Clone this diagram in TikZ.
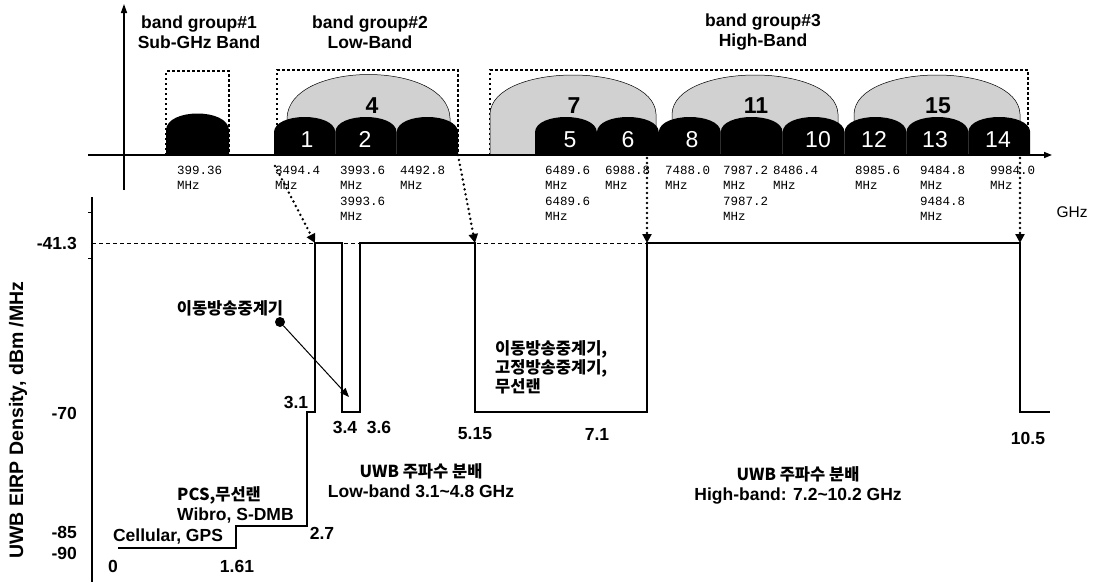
\documentclass[tikz,border=0pt]{standalone}
\usepackage{fontspec}
\setmainfont{Liberation Sans}
\setmonofont{Liberation Mono}
\newfontfamily\kr{Noto Sans CJK KR}
\usepackage{tikz}
\usetikzlibrary{positioning, arrows.meta}

\begin{document}
\begin{tikzpicture}[x=1pt, y=-1pt,
  title/.style={font=\bfseries\fontsize{17.5}{20}\selectfont, align=center, inner sep=0pt},
  freq/.style={font=\ttfamily\fontsize{12.5}{15.3}\selectfont, anchor=north west, align=left, inner sep=0pt},
  subband/.style={fill=black},
  wideband/.style={fill=black!18, draw=black, line width=0.5pt},
  bandbox/.style={line width=1.5pt, dash pattern=on 2.5pt off 2.5pt},
  chno/.style={text=white, font=\fontsize{23}{23}\selectfont, inner sep=0pt, anchor=base},
  wideno/.style={font=\bfseries\fontsize{23}{23}\selectfont, inner sep=0pt},
  lvl/.style={font=\bfseries\fontsize{17.5}{17.5}\selectfont, anchor=east, inner sep=0pt},
  fq/.style={font=\bfseries\fontsize{17.5}{17.5}\selectfont, inner sep=0pt},
  kor/.style={font=\kr\bfseries\fontsize{16.5}{19}\selectfont, align=left, inner sep=0pt},
  maskline/.style={line width=2.2pt},
  dotarrow/.style={line width=2.7pt, dash pattern=on 0pt off 5pt, line cap=round, -{Triangle[width=9pt,length=9pt]}},
]
  \useasboundingbox (0,0) rectangle (1097,584);

  % band group frames
  \draw[bandbox] (166,155) -- (166,71) -- (229,71) -- (229,155);
  \draw[bandbox] (277,155) -- (277,70) -- (458,70) -- (458,155) coordinate (g2se);
  \draw[bandbox] (490,155) -- (490,70) -- (1028,70) -- (1028,155);

  % wide channels 4, 7, 11, 15
  \draw[wideband] (287,155) -- (287,118) .. controls (289,60) and (448,60) .. (450,118) -- (450,155) -- cycle;
  \foreach \x in {490,672,854}
    \draw[wideband] (\x,155) -- (\x,114) .. controls (\x+2,62) and (\x+164,62) .. (\x+166,114) -- (\x+166,155) -- cycle;

  % sub channels
  \fill[subband] (166,155) -- (166,130) .. controls (167,108) and (228,108) .. (229,130) -- (229,155) -- cycle;
  \foreach \x in {274,335.3,396.7}
    \fill[subband] (\x,155) -- (\x,132) .. controls (\x+1,112) and (\x+60.3,112) .. (\x+61.3,132) -- (\x+61.3,155) -- cycle;
  \foreach \i in {0,...,7} {
    \pgfmathsetmacro\x{535+\i*61.9}
    \fill[subband] (\x,155) -- (\x,132) .. controls (\x+1,112) and (\x+60.9,112) .. (\x+61.9,132) -- (\x+61.9,155) -- cycle;
  }

  % axes of the channel plan
  \draw[line width=1.5pt, -{Triangle[width=6pt,length=8pt]}] (88,155) -- (1052,155);
  \draw[line width=1.5pt, -{Triangle[width=6pt,length=9pt]}] (124,190) -- (124,4);

  % group titles
  \node[title] (bg1) at (199,32) {band group\#1\\Sub-GHz Band};
  \node[title] (bg2) at (370,32) {band group\#2\\Low-Band};
  \node[title] (bg3) at (763,32) {band group\#3\\High-Band};

  % channel numbers
  \node[wideno] (ch4) at (372,106) {4};
  \node[wideno] (ch7) at (574,106) {7};
  \node[wideno] (ch11) at (756,106) {11};
  \node[wideno] (ch15) at (938,106) {15};
  \foreach \x/\n in {307/1, 365/2, 570/5, 628/6, 692/8, 818/10, 874/12, 935/13, 998/14}
    \node[chno] (ch\n) at (\x,147) {\n};

  % centre frequencies
  \foreach \x/\t in {177/399.36, 275/3494.4, 400/4492.8, 605/6988.8, 665/7488.0, 773/8486.4, 855/8985.6, 990/9984.0}
    \node[freq] (f\x) at (\x,166) {\t\\MHz};
  \foreach \x/\t in {340/3993.6, 545/6489.6, 723/7987.2, 920/9484.8}
    \node[freq] (f\x) at (\x,166) {\t\\MHz\\\t\\MHz};
  \node[font=\fontsize{15.5}{15.5}\selectfont, inner sep=0pt] (ghz) at (1072,212) {GHz};

  % EIRP axis
  \draw[line width=2pt] (92,197) -- (92,582);
  \draw[line width=0.8pt] (88,212) -- (92,212) (88,258) -- (92,258);
  \node[rotate=90, font=\bfseries\fontsize{19.5}{19.5}\selectfont, inner sep=0pt] (ylab) at (18,420) {UWB EIRP Density, dBm /MHz};
  \node[lvl] (l413) at (77,243) {-41.3};
  \node[lvl] (l70) at (77,413) {-70};
  \node[lvl] (l85) at (77,532) {-85};
  \node[lvl] (l90) at (77,553) {-90};

  % -41.3 guide
  \draw[line width=0.8pt, dash pattern=on 4pt off 3pt] (92,243) -- (647,243);

  % emission mask
  \draw[maskline] (118,548) -- (236,548) -- (236,526) -- (307,526) -- (307,412) -- (315,412)
    -- (315,243) coordinate (c31) -- (342,243) -- (342,412) -- (360,412) -- (360,243)
    -- (475,243) coordinate (c515) -- (475,412) -- (647,412) -- (647,243) coordinate (c71)
    -- (1020,243) coordinate (c105) -- (1020,412) -- (1050,412);

  % frequency marks
  \node[fq] (m0) at (113,566) {0};
  \node[fq] (m161) at (237,566) {1.61};
  \node[fq] (m27) at (322,533) {2.7};
  \node[fq] (m31) at (296,402) {3.1};
  \node[fq] (m34) at (345,427) {3.4};
  \node[fq] (m36) at (379,427) {3.6};
  \node[fq] (m515) at (475,434) {5.15};
  \node[fq] (m71) at (597,434) {7.1};
  \node[fq] (m105) at (1028,438) {10.5};

  % band users
  \node[fq] (cell) at (168,537) {Cellular, GPS};
  \node[kor, anchor=west, font=\kr\bfseries\fontsize{16.5}{20}\selectfont] (pcs) at (177,505) {PCS,무선랜\\{\rmfamily\bfseries\fontsize{17.5}{20}\selectfont Wibro, S-DMB}};
  \node[kor] (mob) at (230,308) {이동방송중계기};
  \node[circle, fill, inner sep=0pt, minimum size=10pt] (dot) at (280,322) {};
  \coordinate (n34) at (349,397);
  \draw[line width=1pt, -{Triangle[width=7pt,length=9pt]}] (dot) -- (n34);
  \node[kor, anchor=west] (fix) at (495,367) {이동방송중계기,\\고정방송중계기,\\무선랜};
  \node[kor, align=center, font=\kr\bfseries\fontsize{16.5}{20}\selectfont] (lowb) at (421,481) {UWB 주파수 분배\\{\rmfamily\bfseries\fontsize{17.5}{20}\selectfont Low-band 3.1\textasciitilde 4.8 GHz}};
  \node[kor, align=center, font=\kr\bfseries\fontsize{16.5}{20}\selectfont] (highb) at (798,485) {UWB 주파수 분배\\{\rmfamily\bfseries\fontsize{17.5}{20}\selectfont High-band: 7.2\textasciitilde 10.2 GHz}};

  % band edges carried down to the mask
  \draw[dotarrow] (f275.north west) -- (c31);
  \draw[dotarrow] (g2se) -- (c515);
  \coordinate (g3mid) at (647,158);
  \draw[dotarrow] (g3mid) -- (c71);
  \coordinate (g3end) at (1020,158);
  \draw[dotarrow] (g3end) -- (c105);
\end{tikzpicture}
\end{document}
